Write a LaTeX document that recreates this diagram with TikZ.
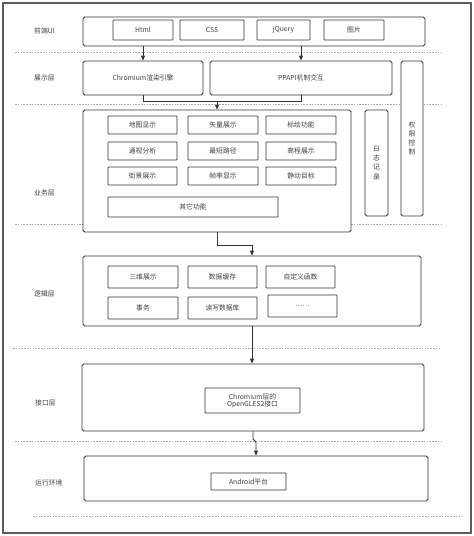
\documentclass[tikz,border=0pt]{standalone}
\usepackage{fontspec}
\setmainfont{Noto Sans CJK SC}
\usetikzlibrary{arrows.meta}
\definecolor{linec}{HTML}{333333}
\definecolor{textc}{HTML}{404040}
\definecolor{dashc}{HTML}{AAAAAA}
\begin{document}
\begin{tikzpicture}[x=1pt,y=-1pt,
  txt/.style={font=\fontsize{6.8}{8}\selectfont, text=textc},
  layer/.style={draw=linec, line width=0.8pt, rounded corners=1.8pt, fill=white, inner sep=0pt, txt},
  item/.style={draw=linec, line width=0.8pt, rounded corners=0.6pt, fill=white, inner sep=0pt, txt},
  lbl/.style={anchor=west, inner sep=0pt, txt},
  sep/.style={draw=dashc, line width=0.6pt, dash pattern=on 1.6pt off 1.2pt},
  arr/.style={draw=linec, line width=0.8pt, -{Triangle[length=5pt,width=4pt]}},
  conn/.style={draw=linec, line width=0.8pt}]
\useasboundingbox (0,0) rectangle (474,536);
\fill[white] (0,0) rectangle (474,536);
\draw[draw=linec!80, line width=1.6pt] (3,3) rectangle (471,533);

% dashed separators
\draw[sep] (15,52) -- (443,52);
\draw[sep] (15,104) -- (443,104);
\draw[sep] (15,224) -- (443,224);
\draw[sep] (13,348) -- (440,348);
\draw[sep] (15,441) -- (443,441);
\draw[sep] (33,516) -- (462,516);

% layer labels
\node[lbl] (l1) at (34,31) {前端UI};
\node[lbl] (l2) at (34,78) {展示层};
\node[lbl] (l3) at (34,193) {业务层};
\node[lbl] (l4) at (34,294) {逻辑层};
\node[lbl] (l5) at (35,403) {接口层};
\node[lbl] (l6) at (35,483) {运行环境};

% front UI
\node[layer, minimum width=342pt, minimum height=29pt] (ui) at (254,31.5) {};
\node[item, minimum width=60pt, minimum height=20pt] (html) at (143,30) {Html};
\node[item, minimum width=64pt, minimum height=20pt] (css) at (212,30) {CSS};
\node[item, minimum width=53pt, minimum height=20pt] (jq) at (283.5,30) {jQuery};
\node[item, minimum width=60pt, minimum height=20pt] (pic) at (354,30) {图片};

% presentation
\node[layer, minimum width=120pt, minimum height=34pt] (chrom) at (143,78) {Chromium渲染引擎};
\node[layer, minimum width=182pt, minimum height=34pt] (ppapi) at (301,78) {PPAPI机制交互};
\node[layer, minimum width=22pt, minimum height=155pt, align=center] (perm) at (412,138.5) {权\\[1.2pt]限\\[1.2pt]控\\[1.2pt]制};
\node[layer, minimum width=23pt, minimum height=106pt, align=center] (logb) at (376.5,163) {日\\[1.2pt]志\\[1.2pt]记\\[1.2pt]录};

% business
\node[layer, minimum width=268pt, minimum height=122pt] (biz) at (217,171) {};
\node[item, minimum width=69pt, minimum height=18pt] (b11) at (142.5,125) {地图显示};
\node[item, minimum width=70pt, minimum height=18pt] (b12) at (223,125) {矢量展示};
\node[item, minimum width=70pt, minimum height=18pt] (b13) at (301,125) {标绘功能};
\node[item, minimum width=69pt, minimum height=18pt] (b21) at (142.5,151) {通视分析};
\node[item, minimum width=70pt, minimum height=18pt] (b22) at (223,151) {最短路径};
\node[item, minimum width=70pt, minimum height=18pt] (b23) at (301,151) {高程展示};
\node[item, minimum width=69pt, minimum height=18pt] (b31) at (142.5,176) {街景展示};
\node[item, minimum width=70pt, minimum height=18pt] (b32) at (223,176) {帧率显示};
\node[item, minimum width=70pt, minimum height=18pt] (b33) at (301,176) {静动目标};
\node[item, minimum width=170pt, minimum height=20pt] (b41) at (193,207) {其它功能};

% logic
\node[layer, minimum width=338pt, minimum height=70pt] (logic) at (252,291) {};
\node[item, minimum width=70pt, minimum height=22pt] (g11) at (143,277) {三维展示};
\node[item, minimum width=69pt, minimum height=22pt] (g12) at (222.5,277) {数据缓存};
\node[item, minimum width=69pt, minimum height=22pt] (g13) at (300.5,277) {自定义函数};
\node[item, minimum width=70pt, minimum height=22pt] (g21) at (143,308) {事务};
\node[item, minimum width=69pt, minimum height=22pt] (g22) at (222.5,308) {读写数据库};
\node[item, minimum width=69pt, minimum height=22pt] (g23) at (302.5,306) {……};

% interface
\node[layer, minimum width=342pt, minimum height=67pt] (iface) at (253,397.5) {};
\node[item, minimum width=95pt, minimum height=25pt, align=center] (gl) at (252.5,400.5) {Chromium层的\\[-1pt]OpenGLES2接口};

% runtime
\node[layer, minimum width=344pt, minimum height=45pt] (run) at (256,478.5) {};
\node[item, minimum width=75pt, minimum height=17pt] (andr) at (248.5,481.5) {Android平台};

% connectors
\draw[arr] (chrom.north |- ui.south) -- (chrom.north);
\draw[arr] (ppapi.north |- ui.south) -- (ppapi.north);
\coordinate (j1) at (217,101);
\draw[conn] (chrom.south) |- (j1);
\draw[conn] (ppapi.south) |- (j1);
\draw[arr] (j1) -- (biz.north);
\coordinate (j2) at (217,245);
\draw[arr] (biz.south) -- (j2) -| (logic.north);
\draw[arr] (logic.south) -- (logic.south |- iface.north);
\coordinate (j3) at (253,439);
\coordinate (j4) at (256,442);
\draw[arr] (iface.south) -- (j3) -- (j4) -- (run.north);
\end{tikzpicture}
\end{document}
